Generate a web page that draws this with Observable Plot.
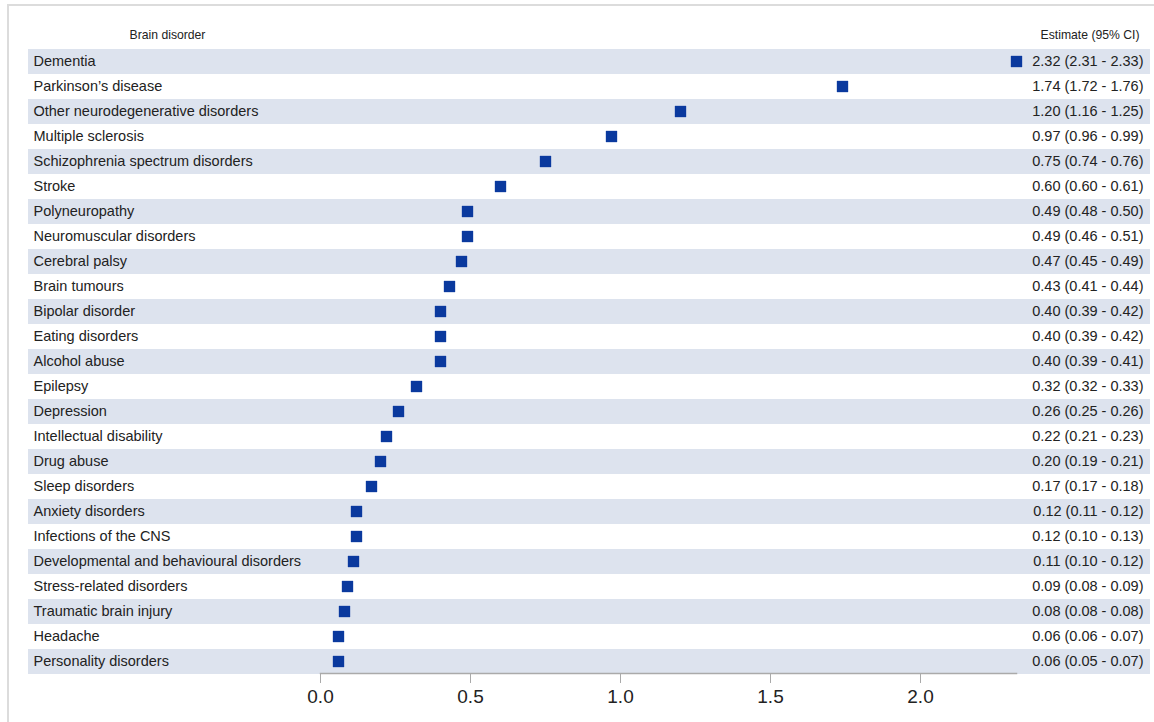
<!DOCTYPE html>
<html>
<head>
<meta charset="utf-8">
<script src="https://cdn.jsdelivr.net/npm/d3@7"></script>
<script src="https://cdn.jsdelivr.net/npm/@observablehq/plot@0.6"></script>
<style>
  html, body { margin: 0; padding: 0; background: #fff; }
  #wrap { position: relative; width: 1154px; height: 722px; overflow: hidden; }
  #border { position: absolute; left: 7px; top: 4px; width: 1160px; height: 740px;
            border-left: 2px solid #dcdcdc; border-top: 2px solid #dcdcdc; pointer-events: none; }
  svg { display: block; font-family: "Liberation Sans", Arial, sans-serif; }
</style>
</head>
<body>
<div id="wrap"><div id="border"></div><div id="chart"></div></div>
<script>
const disorders = [
  "Dementia", "Parkinson’s disease", "Other neurodegenerative disorders", "Multiple sclerosis",
  "Schizophrenia spectrum disorders", "Stroke", "Polyneuropathy", "Neuromuscular disorders",
  "Cerebral palsy", "Brain tumours", "Bipolar disorder", "Eating disorders", "Alcohol abuse",
  "Epilepsy", "Depression", "Intellectual disability", "Drug abuse", "Sleep disorders",
  "Anxiety disorders", "Infections of the CNS", "Developmental and behavioural disorders",
  "Stress-related disorders", "Traumatic brain injury", "Headache", "Personality disorders"
];
const estimates = [2.32, 1.74, 1.20, 0.97, 0.75, 0.60, 0.49, 0.49, 0.47, 0.43, 0.40, 0.40, 0.40,
  0.32, 0.26, 0.22, 0.20, 0.17, 0.12, 0.12, 0.11, 0.09, 0.08, 0.06, 0.06];
const lower = [2.31, 1.72, 1.16, 0.96, 0.74, 0.60, 0.48, 0.46, 0.45, 0.41, 0.39, 0.39, 0.39,
  0.32, 0.25, 0.21, 0.19, 0.17, 0.11, 0.10, 0.10, 0.08, 0.08, 0.06, 0.05];
const upper = [2.33, 1.76, 1.25, 0.99, 0.76, 0.61, 0.50, 0.51, 0.49, 0.44, 0.42, 0.42, 0.41,
  0.33, 0.26, 0.23, 0.21, 0.18, 0.12, 0.13, 0.12, 0.09, 0.08, 0.07, 0.07];
const xTicks = [0, 0.5, 1.0, 1.5, 2.0];
const headerLeft = "Brain disorder";
const headerRight = "Estimate (95% CI)";

const rows = disorders.map((name, i) => ({
  name, i, est: estimates[i], lo: lower[i], hi: upper[i],
  label: `${estimates[i].toFixed(2)} (${lower[i].toFixed(2)} - ${upper[i].toFixed(2)})`
}));

const W = 1154, H = 722;
const mL = 320, mR = 138, mT = 48, mB = 49;
const fontFam = '"Liberation Sans", Arial, sans-serif';

const chart = Plot.plot({
  width: W, height: H,
  marginLeft: mL, marginRight: mR, marginTop: mT, marginBottom: mB,
  style: { fontFamily: fontFam, background: "transparent", overflow: "visible" },
  x: { domain: [0, 2], range: [320, 920], axis: null },
  y: { type: "point", domain: disorders, range: [60, 661], padding: 0, axis: null },
  marks: [
    Plot.ruleY(rows.filter(d => d.i % 2 === 0), {
      y: "name", stroke: "#dde3ee", strokeWidth: 25, insetLeft: -292, insetRight: -134
    }),
    Plot.frame({ anchor: "bottom", stroke: "#aaaaaa", strokeWidth: 1.5 }),
    Plot.axisX({
      ticks: xTicks, tickFormat: d3.format(".1f"), tickSize: 10, tickPadding: 6,
      stroke: "#aaaaaa", fill: "#222", fontSize: 19, anchor: "bottom", label: null
    }),
    Plot.text(rows, {
      y: "name", text: "name", frameAnchor: "left", dx: -287, textAnchor: "start",
      fontSize: 14.5, fill: "#222"
    }),
    Plot.text(rows, {
      y: "name", text: "label", frameAnchor: "right", dx: 127, textAnchor: "end",
      fontSize: 14.5, fill: "#222"
    }),
    Plot.dot(rows, {
      x: "est", y: "name", symbol: "square", r: 6.4, fill: "#0a399e", stroke: null
    }),
    Plot.text([headerLeft], {
      text: d => d, frameAnchor: "top-left", lineAnchor: "middle", dx: 167 - mL, dy: 35 - mT,
      textAnchor: "middle", fontSize: 12.2, fill: "#222"
    }),
    Plot.text([headerRight], {
      text: d => d, frameAnchor: "top-right", lineAnchor: "middle", dx: 1139 - (W - mR), dy: 35 - mT,
      textAnchor: "end", fontSize: 12.2, fill: "#222"
    })
  ]
});
document.getElementById("chart").appendChild(chart);
</script>
</body>
</html>
